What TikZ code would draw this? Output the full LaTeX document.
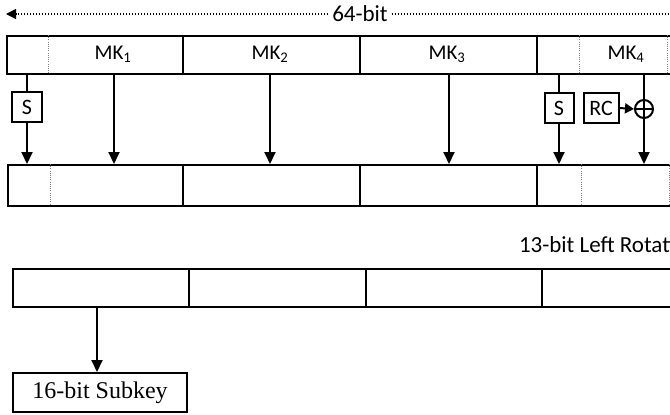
\documentclass[tikz,border=0pt]{standalone}
\usepackage{fontspec}
\setmainfont{Carlito}
\newfontfamily\subkeyfont{Liberation Serif}
\usetikzlibrary{arrows.meta}
\begin{document}
\begin{tikzpicture}[x=1pt,y=-1pt,line width=2pt,
  cell/.style={draw,rectangle,inner sep=0pt,anchor=north west},
  lbl/.style={inner sep=0pt,font=\fontsize{21}{24}\selectfont},
  biglbl/.style={inner sep=0pt,font=\fontsize{23}{26}\selectfont},
  opbox/.style={draw,rectangle,inner sep=0pt,minimum height=30pt,font=\fontsize{22}{25}\selectfont},
  xorc/.style={draw,circle,inner sep=0pt,minimum size=18pt},
  dotdiv/.style={line width=0.9pt,gray,dash pattern=on 1pt off 1.2pt},
  dotline/.style={line width=1.5pt,dash pattern=on 1.5pt off 1.5pt},
  arr/.style={-{Triangle[length=12pt,width=11pt]}},
  sarr/.style={-{Triangle[length=9pt,width=10pt]}}]
\useasboundingbox (0,0) rectangle (670,415);
\clip (0,0) rectangle (670,415);
% 64-bit header
\node[biglbl,inner xsep=3pt] (bits) at (360,14) {64-bit};
\coordinate (lend) at (6,14);
\coordinate (rend) at (720,14);
\draw[dotline,-{Triangle[length=10pt,width=10pt]}] (bits.west) -- (lend);
\draw[dotline] (bits.east) -- (rend);
% row 1
\node[cell,minimum width=176pt,minimum height=38pt] (r1a) at (6,35) {};
\node[cell,minimum width=177pt,minimum height=38pt] (r1b) at (182,35) {};
\node[cell,minimum width=177pt,minimum height=38pt] (r1c) at (359,35) {};
\node[cell,minimum width=200pt,minimum height=38pt] (r1d) at (536,35) {};
\draw[dotdiv] (48,35) -- (48,73);
\draw[dotdiv] (579,35) -- (579,73);
\draw[dotdiv] (667,35) -- (667,73);
\node[lbl] (mk1) at (113,54) {MK\textsubscript{1}};
\node[lbl] (mk2) at (270,54) {MK\textsubscript{2}};
\node[lbl] (mk3) at (447,54) {MK\textsubscript{3}};
\node[lbl] (mk4) at (626,54) {MK\textsubscript{4}};
% row 2
\node[cell,minimum width=175pt,minimum height=41pt] (r2a) at (7,164) {};
\node[cell,minimum width=177pt,minimum height=41pt] (r2b) at (182,164) {};
\node[cell,minimum width=177pt,minimum height=41pt] (r2c) at (359,164) {};
\node[cell,minimum width=200pt,minimum height=41pt] (r2d) at (536,164) {};
\draw[dotdiv] (50,164) -- (50,205);
\draw[dotdiv] (581,164) -- (581,205);
\draw[dotdiv] (669,164) -- (669,205);
% operations
\node[opbox,minimum width=30pt] (s1) at (27,107) {S};
\node[opbox,minimum width=29pt] (s2) at (559,108) {S};
\node[opbox,minimum width=35pt] (rc) at (601,108) {RC};
\node[xorc] (xr) at (644,109) {};
\draw[line width=1.5pt] (xr.west) -- (xr.east);
% arrows row1 -> row2
\draw (s1 |- r1a.south) -- (s1.north);
\draw[arr] (s1.south) -- (s1 |- r2a.north);
\coordinate (p1) at (114,73);
\coordinate (p2) at (270,73);
\coordinate (p3) at (449,73);
\draw[arr] (p1) -- (p1 |- r2a.north);
\draw[arr] (p2) -- (p2 |- r2b.north);
\draw[arr] (p3) -- (p3 |- r2c.north);
\draw (s2 |- r1d.south) -- (s2.north);
\draw[arr] (s2.south) -- (s2 |- r2d.north);
\draw (xr |- r1d.south) -- (xr.north);
\draw[arr] (xr.south) -- (xr |- r2d.north);
\draw[line width=1.5pt] (xr.north) -- (xr.south);
\draw[sarr] (rc.east) -- (xr.west);
% rotation label
\node[biglbl,anchor=west] (rot) at (518,245) {13-bit Left Rotation};
% row 3
\node[cell,minimum width=176pt,minimum height=38pt] (r3a) at (12,268) {};
\node[cell,minimum width=177pt,minimum height=38pt] (r3b) at (188,268) {};
\node[cell,minimum width=176pt,minimum height=38pt] (r3c) at (365,268) {};
\node[cell,minimum width=200pt,minimum height=38pt] (r3d) at (541,268) {};
% subkey
\node[draw,rectangle,inner sep=0pt,minimum width=174pt,minimum height=39pt,font=\subkeyfont\fontsize{24}{28}\selectfont] (sub) at (100,392.5) {16-bit Subkey};
\draw[arr] ([xshift=-4pt]r3a.south) -- ([xshift=-4pt]r3a.south |- sub.north);
\end{tikzpicture}
\end{document}
